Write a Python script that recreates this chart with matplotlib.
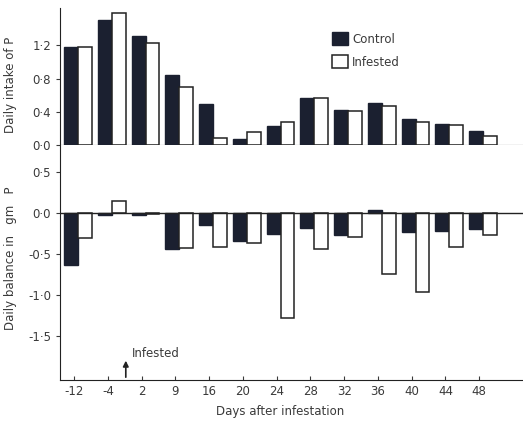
import numpy as np
import matplotlib.pyplot as plt

days = ['-12', '-4', '2', '9', '16', '20', '24', '28', '32', '36', '40', '44', '48']
intake_control = [1.18, 1.50, 1.31, 0.84, 0.49, 0.07, 0.23, 0.56, 0.42, 0.51, 0.31, 0.25, 0.17]
intake_infested = [1.18, 1.59, 1.23, 0.70, 0.08, 0.16, 0.28, 0.57, 0.41, 0.47, 0.28, 0.24, 0.11]
balance_control = [-0.63, -0.02, -0.02, -0.44, -0.15, -0.34, -0.26, -0.18, -0.27, 0.04, -0.23, -0.22, -0.19]
balance_infested = [-0.31, 0.14, -0.01, -0.43, -0.42, -0.37, -1.28, -0.44, -0.29, -0.75, -0.97, -0.42, -0.27]

top_ticks = [0.0, 0.4, 0.8, 1.2]
bottom_ticks = [0.5, 0.0, -0.5, -1.0, -1.5]

dark = '#1b2030'
ink = '#3a3a3a'
plt.rcParams['font.family'] = 'DejaVu Sans'
plt.rcParams['text.color'] = ink

def dot_label(v):
    return f'{v:.1f}'.replace('.', '\u00b7')

fig = plt.figure(figsize=(5.23, 4.21), dpi=100)
ax1 = fig.add_axes([0.1147, 0.6556, 0.8853, 0.3254])
ax2 = fig.add_axes([0.1147, 0.0974, 0.8853, 0.5582])

x = np.arange(len(days))
w = 0.41

for ax, c, i in [(ax1, intake_control, intake_infested), (ax2, balance_control, balance_infested)]:
    ax.bar(x - 0.09, c, width=w, color=dark, edgecolor=dark, linewidth=1)
    ax.bar(x + 0.32, i, width=w, color='white', edgecolor='#222222', linewidth=1.1)
    ax.set_xlim(-0.42, 13.3)
    for s in ['top', 'right']:
        ax.spines[s].set_visible(False)
    ax.spines['left'].set_color('#222222')
    ax.spines['bottom'].set_color('#222222')
    ax.tick_params(axis='y', direction='out', length=3, labelsize=8.5, colors=ink)

ax1.set_ylim(0, 1.65)
ax1.set_yticks(top_ticks)
ax1.set_yticklabels([dot_label(v) for v in top_ticks])
ax1.set_xticks([])
ax1.set_ylabel('Daily intake of P', fontsize=8.5, color=ink)
ax1.yaxis.set_label_coords(-0.093, 0.44)
ax1.legend(['Control', 'Infested'], loc='upper left', bbox_to_anchor=(0.565, 0.9),
           frameon=False, fontsize=8.5, handlelength=1.3, handleheight=1.3,
           labelspacing=0.8, handletextpad=0.4)

ax2.set_ylim(-2.04, 0.83)
ax2.axhline(0, color='#222222', linewidth=1)
ax2.set_yticks(bottom_ticks)
ax2.set_yticklabels([dot_label(v) for v in bottom_ticks])
ax2.set_xticks(x)
ax2.set_xticklabels(days)
ax2.tick_params(axis='x', direction='in', length=3, labelsize=8.5, colors=ink)
ax2.set_ylabel('Daily balance in   gm   P', fontsize=8.5, color=ink)
ax2.yaxis.set_label_coords(-0.093, 0.52)
ax2.set_xlabel('Days after infestation', fontsize=8.5, color=ink)
ax2.xaxis.set_label_coords(0.475, -0.105)

ax2.annotate('', xy=(1.53, -1.77), xytext=(1.53, -2.04),
             arrowprops=dict(arrowstyle='-|>', color='#222222', lw=1.2, mutation_scale=8))
ax2.text(1.72, -1.72, 'Infested', fontsize=8.5, color=ink, va='center')

fig.savefig('out.png', dpi=100)
